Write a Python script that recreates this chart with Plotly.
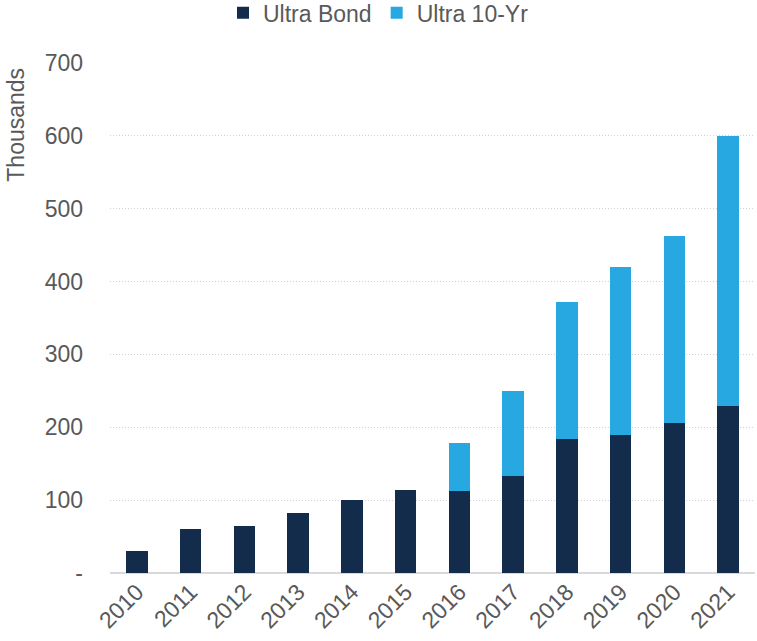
import plotly.graph_objects as go

years = ["2010", "2011", "2012", "2013", "2014", "2015", "2016", "2017", "2018", "2019", "2020", "2021"]
ultra_bond = [30, 61, 65, 83, 100, 114, 112, 133, 184, 189, 206, 229]
ultra_10yr = [0, 0, 0, 0, 0, 0, 67, 117, 188, 231, 256, 371]

dark = "#132C4C"
light = "#27A8E0"
grey_text = "#595959"
FS = 23

fig = go.Figure()
fig.add_trace(go.Bar(x=years, y=ultra_bond, name="Ultra Bond", marker=dict(color=dark, line=dict(width=0))))
fig.add_trace(go.Bar(x=years, y=ultra_10yr, name="Ultra 10-Yr", marker=dict(color=light, line=dict(width=0))))

fig.update_layout(
    width=757, height=641,
    barmode="stack", bargap=0.6,
    plot_bgcolor="white", paper_bgcolor="white",
    margin=dict(l=110, r=2, t=63, b=68),
    font=dict(family="Liberation Sans, Arial", size=FS, color=grey_text),
    showlegend=True,
    legend=dict(orientation="h", x=0.5, xanchor="center", xref="container",
                y=0.98, yanchor="middle", yref="container",
                font=dict(size=FS, color=grey_text), itemwidth=30,
                traceorder="normal"),
    xaxis=dict(tickangle=-45, showgrid=False, showline=False, ticks="",
               tickfont=dict(size=FS, color=grey_text)),
    yaxis=dict(range=[0, 700], tickvals=[0, 100, 200, 300, 400, 500, 600, 700],
               ticktext=["-", "100", "200", "300", "400", "500", "600", "700"],
               showgrid=True, gridcolor="#D0D0D0", griddash="1px,2px", gridwidth=1,
               zeroline=True, zerolinecolor="#D9D9D9", zerolinewidth=2,
               ticks="", ticklabelstandoff=26, tickfont=dict(size=FS, color=grey_text)),
)

fig.add_annotation(text="Thousands", textangle=-90, xref="paper", yref="paper",
                   x=-0.145, y=0.88, xanchor="center", yanchor="middle", showarrow=False,
                   font=dict(size=FS, color=grey_text))

fig.write_html("out.html")
